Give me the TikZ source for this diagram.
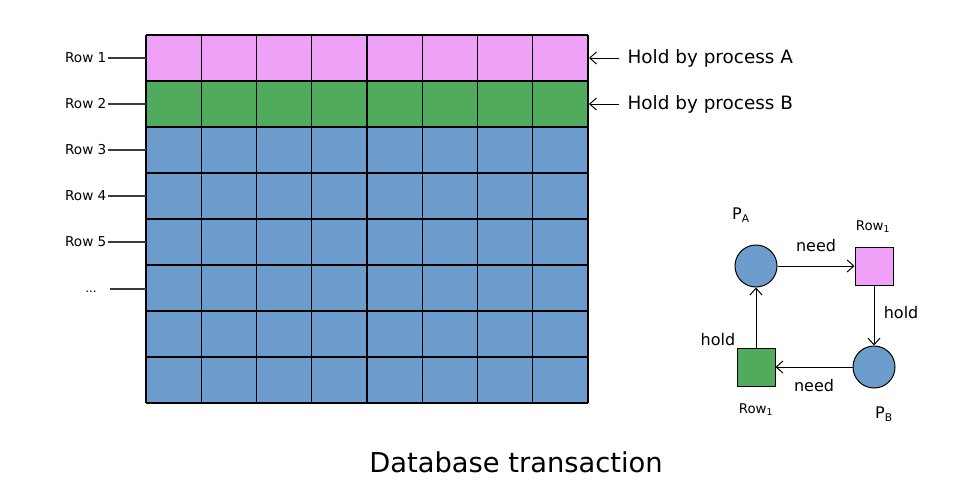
\documentclass[tikz,border=0pt]{standalone}
\usepackage{fontspec}
\setmainfont{DejaVu Sans}
\usetikzlibrary{arrows.meta}
\definecolor{cpink}{RGB}{239,161,247}
\definecolor{cgreen}{RGB}{80,172,92}
\definecolor{cblue}{RGB}{108,156,204}
\definecolor{cline}{RGB}{60,60,60}
\begin{document}
\begin{tikzpicture}[x=0.75pt,y=-0.75pt,
  rowlab/.style={font=\fontsize{10.2}{12}\selectfont, anchor=east, inner sep=1pt},
  holdlab/.style={font=\fontsize{13.8}{16}\selectfont, anchor=west, inner sep=1pt},
  edgelab/.style={font=\fontsize{12}{14}\selectfont, inner sep=1pt},
  small/.style={font=\fontsize{10}{12}\selectfont, inner sep=1pt},
  proc/.style={circle, draw=black, fill=cblue, line width=0.75pt, minimum size=42*0.75pt, inner sep=0pt},
  res/.style={rectangle, draw=black, line width=0.75pt, minimum size=38*0.75pt, inner sep=0pt},
  arr/.style={-{Straight Barb[length=5pt,width=9pt]}, line width=0.75pt, black},
  tick/.style={cline, line width=0.9pt}
]
\useasboundingbox (0,0) rectangle (962,490);
% grid fills
\fill[cpink] (146,35) rectangle (588,81);
\fill[cgreen] (146,81) rectangle (588,127);
\fill[cblue] (146,127) rectangle (588,403);
\foreach \i in {0,...,8} {
  \draw[line width=0.9pt] ({146+\i*55.25},35) -- ({146+\i*55.25},403);
  \draw[line width=0.9pt] (146,{35+\i*46}) -- (588,{35+\i*46});
}
% row labels
\foreach \n/\y in {1/58,2/104,3/150,4/196,5/242} {
  \node[rowlab] (r\n) at (108,\y) {Row \n};
  \coordinate (g\n) at (146,\y);
  \draw[tick] (r\n.east) -- (g\n);
}
\node[font=\fontsize{9}{11}\selectfont, anchor=base, inner sep=0pt] (rdots) at (91,292) {...};
\coordinate (gd1) at (110,289);
\coordinate (gd2) at (146,289);
\draw[tick] (gd1) -- (gd2);
% hold labels
\node[holdlab] (ha) at (626,58) {Hold by process A};
\node[holdlab] (hb) at (626,104) {Hold by process B};
\coordinate (ea) at (589,58);
\coordinate (eb) at (589,104);
\draw[arr] (ha.west) ++(-5pt,0) -- (ea);
\draw[arr] (hb.west) ++(-5pt,0) -- (eb);
% wait-for graph
\node[proc] (pa) at (756,266) {};
\node[proc] (pb) at (874,367) {};
\node[res, fill=cpink] (ra) at (874,266) {};
\node[res, fill=cgreen] (rb) at (756,367) {};
\node[edgelab] (pal) at (741,215) {P\textsubscript{A}};
\node[edgelab] (pbl) at (884,414) {P\textsubscript{B}};
\node[small] (ral) at (873,227) {Row\textsubscript{1}};
\node[small] (rbl) at (756,410) {Row\textsubscript{1}};
\draw[arr] (pa.east) -- node[edgelab, above=9pt] (n1) {need} (ra.west);
\draw[arr] (ra.south) -- node[edgelab, right=6pt, yshift=2pt] (h1) {hold} (pb.north);
\draw[arr] (pb.west) -- node[edgelab, below=8pt] (n2) {need} (rb.east);
\draw[arr] (rb.north) -- (pa.south);
\node[edgelab] (h2) at (718,340) {hold};
% title
\node[font=\fontsize{20.5}{24}\selectfont, inner sep=0pt] (title) at (516,462) {Database transaction};
\end{tikzpicture}
\end{document}
